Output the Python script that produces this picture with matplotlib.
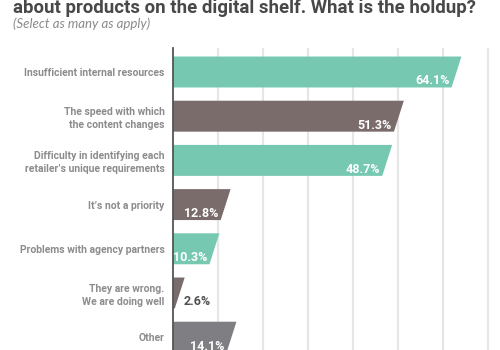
import matplotlib
matplotlib.use("Agg")
import matplotlib.pyplot as plt
from matplotlib import font_manager

# ---------------- DATA ---------------- #

categories = [
    "Insufficient internal resources",
    "The speed with which\nthe content changes",
    "Difficulty in identifying each\nretailer\u2019s unique requirements",
    "It\u2019s not a priority",
    "Problems with agency partners",
    "They are wrong.\nWe are doing well",
    "Other",
]
values = [64.1, 51.3, 48.7, 12.8, 10.3, 2.6, 14.1]
bar_colors = ["#76c8b1", "#7b6c6c", "#76c8b1", "#7b6c6c", "#76c8b1", "#7b6c6c", "#7f7f83"]
grid_ticks = [10, 20, 30, 40, 50, 60, 70]

title = "about products on the digital shelf. What is the holdup?"
subtitle = "(Select as many as apply)"

# ---------------- FONTS ---------------- #

installed = {f.name for f in font_manager.fontManager.ttflist}
narrow = "Liberation Sans Narrow" if "Liberation Sans Narrow" in installed else "Roboto"
italic_font = "Lato" if "Lato" in installed else "DejaVu Sans"

# ---------------- FIGURE ---------------- #

fig = plt.figure(figsize=(5, 3.5), dpi=100)
ax = fig.add_axes([173 / 500, 0, 327 / 500, 1 - 48 / 350])

bar_h = 0.70
slant = 2.2

for i, (v, c) in enumerate(zip(values, bar_colors)):
    top = i - bar_h / 2
    bot = i + bar_h / 2
    ax.fill([0, v, v - slant, 0], [top, top, bot, bot],
            color=c, zorder=3, lw=0)
    if v < 5:
        ax.text(v - 0.2, i + 0.2, f"{v}%", ha="left", va="center",
                fontsize=9, fontweight="bold", color="#4f4f4f",
                family=narrow, zorder=4)
    else:
        ax.text(v - 2.7, i + 0.2, f"{v}%", ha="right", va="center",
                fontsize=9, fontweight="bold", color="white",
                family=narrow, zorder=4)

ax.set_xlim(0, 72.67)
ax.set_ylim(6.29, -0.543)

ax.set_xticks(grid_ticks)
ax.xaxis.grid(True, color="#e6e6e6", lw=1.5, zorder=0)
ax.tick_params(axis="x", length=0, labelbottom=False)

ax.set_yticks(range(len(categories)))
ax.set_yticklabels(categories, fontsize=7.5, fontweight="bold",
                   color="#8c8c8c", family=narrow, linespacing=1.35)
for lbl in ax.get_yticklabels():
    lbl.set_multialignment("right")
ax.tick_params(axis="y", length=0, pad=6)

for side in ["top", "right", "bottom"]:
    ax.spines[side].set_visible(False)
ax.spines["left"].set_color("#555555")
ax.spines["left"].set_linewidth(1.3)
ax.spines["left"].set_zorder(5)
ax.set_axisbelow(True)

# ---------------- TITLES ---------------- #

fig.text(13 / 500, 1 - 13 / 350, title, ha="left", va="baseline",
         fontsize=13.4, fontweight="bold", color="#484848", family=narrow)
fig.text(13 / 500, 1 - 28 / 350, subtitle, ha="left", va="baseline",
         fontsize=9.5, style="italic", color="#8a8a8a", family=italic_font)

fig.savefig("out.png", dpi=100)
